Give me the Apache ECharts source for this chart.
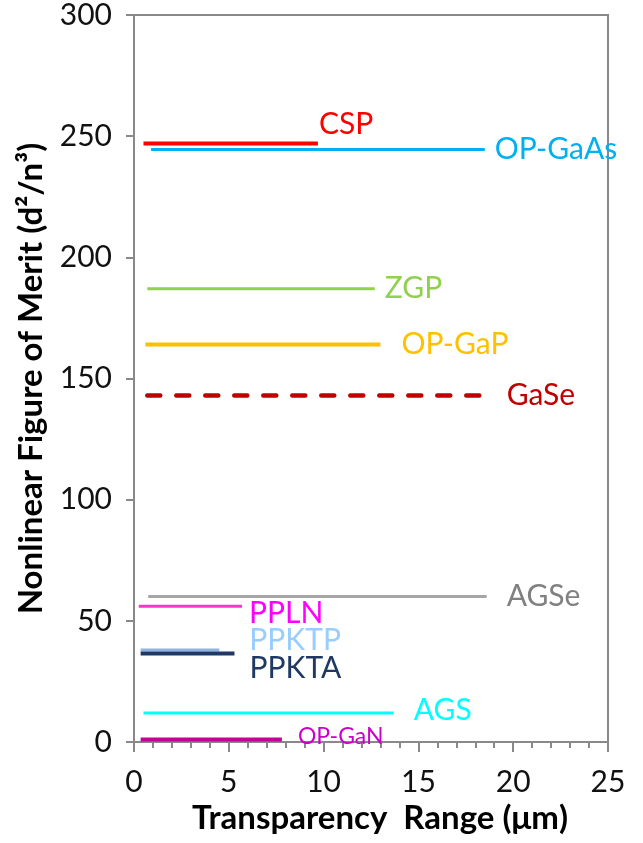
<!DOCTYPE html>
<html>
<head>
<meta charset="utf-8">
<script src="https://cdn.jsdelivr.net/npm/echarts@6/dist/echarts.min.js"></script>
<style>
  html, body { margin: 0; padding: 0; background: #ffffff; }
  #chart { width: 643px; height: 843px; }
</style>
</head>
<body>
<div id="chart"></div>
<script>
// Nonlinear crystals: figure of merit vs. transparency window
const materials    = ['CSP', 'OP-GaAs', 'ZGP', 'OP-GaP', 'GaSe', 'AGSe', 'PPLN', 'PPKTP', 'PPKTA', 'AGS', 'OP-GaN'];
const figureOfMerit = [247, 244.5, 187, 164, 143, 60, 56, 38, 36.5, 12, 1];   // d²/n³
const rangeStart    = [0.5, 0.9, 0.7, 0.6, 0.7, 0.75, 0.25, 0.35, 0.35, 0.5, 0.35]; // µm
const rangeEnd      = [9.7, 18.5, 12.7, 13.0, 18.6, 18.6, 5.7, 4.5, 5.3, 13.7, 7.8];  // µm

const xTickValues = [0, 5, 10, 15, 20, 25];
const yTickValues = [0, 50, 100, 150, 200, 250, 300];

// Appearance of each material's bar
const lineColors  = ['#ff0000', '#00b0f0', '#92d050', '#ffc000', '#c00000', '#a6a6a6', '#ff33cc', '#8db4e2', '#1f3864', '#00ffff', '#c8009b'];
const labelColors = ['#ff0000', '#00b0f0', '#92d050', '#ffc000', '#c00000', '#808080', '#ff00ff', '#99ccff', '#1f3864', '#00ffff', '#cc00cc'];
const lineWidths  = [4, 3, 3, 4, 4.5, 3, 3, 3, 4, 3, 4];
const dashed      = [false, false, false, false, true, false, false, false, false, false, false];
const labelShift  = [[-4, -19], [5, 0], [5, -1], [16, 0], [15, 0], [15, 0], [2, 7], [25, -10], [10, 15], [15, -3], [11, -3]];
const labelSizes  = [30, 30, 30, 30, 30, 30, 30, 30, 30, 30, 23];

const FONT = 'Lato';
const AXIS_GREY = '#898989';

const series = materials.map((name, i) => ({
  name: name,
  type: 'line',
  data: [[rangeStart[i], figureOfMerit[i]], [rangeEnd[i], figureOfMerit[i]]],
  symbol: 'circle',
  symbolSize: 0,
  showSymbol: true,
  silent: true,
  animation: false,
  lineStyle: {
    color: lineColors[i],
    width: lineWidths[i],
    type: dashed[i] ? [13, 16] : 'solid',
    cap: dashed[i] ? 'round' : 'butt'
  },
  itemStyle: { color: lineColors[i] },
  label: {
    show: true,
    position: 'right',
    distance: 5,
    offset: labelShift[i],
    color: labelColors[i],
    fontFamily: FONT,
    fontSize: labelSizes[i],
    formatter: p => (p.dataIndex === 1 ? name : '')
  },
  z: 2 + i
}));

const chart = echarts.init(document.getElementById('chart'), null, { renderer: 'canvas' });
chart.setOption({
  animation: false,
  backgroundColor: '#ffffff',
  grid: {
    left: 134, right: 35, top: 15, bottom: 101,
    show: true, borderColor: AXIS_GREY, borderWidth: 2, backgroundColor: 'transparent'
  },
  xAxis: {
    type: 'value',
    min: xTickValues[0],
    max: xTickValues[xTickValues.length - 1],
    interval: xTickValues[1] - xTickValues[0],
    name: 'Transparency  Range (μm)',
    nameLocation: 'middle',
    nameGap: 50,
    nameTextStyle: { fontFamily: FONT, fontWeight: 'bold', fontSize: 33, color: '#000', padding: [0, 0, 0, 18] },
    axisLine: { show: true, lineStyle: { color: AXIS_GREY, width: 2 } },
    axisTick: { show: true, inside: false, length: 10, lineStyle: { color: AXIS_GREY, width: 2 } },
    minorTick: { show: true, splitNumber: 5, length: 6, lineStyle: { color: AXIS_GREY, width: 2 } },
    splitLine: { show: false },
    axisLabel: { fontFamily: FONT, fontSize: 30, color: '#111', margin: 25 }
  },
  yAxis: {
    type: 'value',
    min: yTickValues[0],
    max: yTickValues[yTickValues.length - 1],
    interval: yTickValues[1] - yTickValues[0],
    name: 'Nonlinear Figure of Merit (d²/n³)',
    nameLocation: 'middle',
    nameGap: 86,
    nameTextStyle: { fontFamily: FONT, fontWeight: 'bold', fontSize: 33, color: '#000' },
    axisLine: { show: true, lineStyle: { color: AXIS_GREY, width: 2 } },
    axisTick: { show: true, inside: false, length: 8, lineStyle: { color: AXIS_GREY, width: 2 } },
    splitLine: { show: false },
    axisLabel: { fontFamily: FONT, fontSize: 30, color: '#111', margin: 22 }
  },
  series: series
});
</script>
</body>
</html>
